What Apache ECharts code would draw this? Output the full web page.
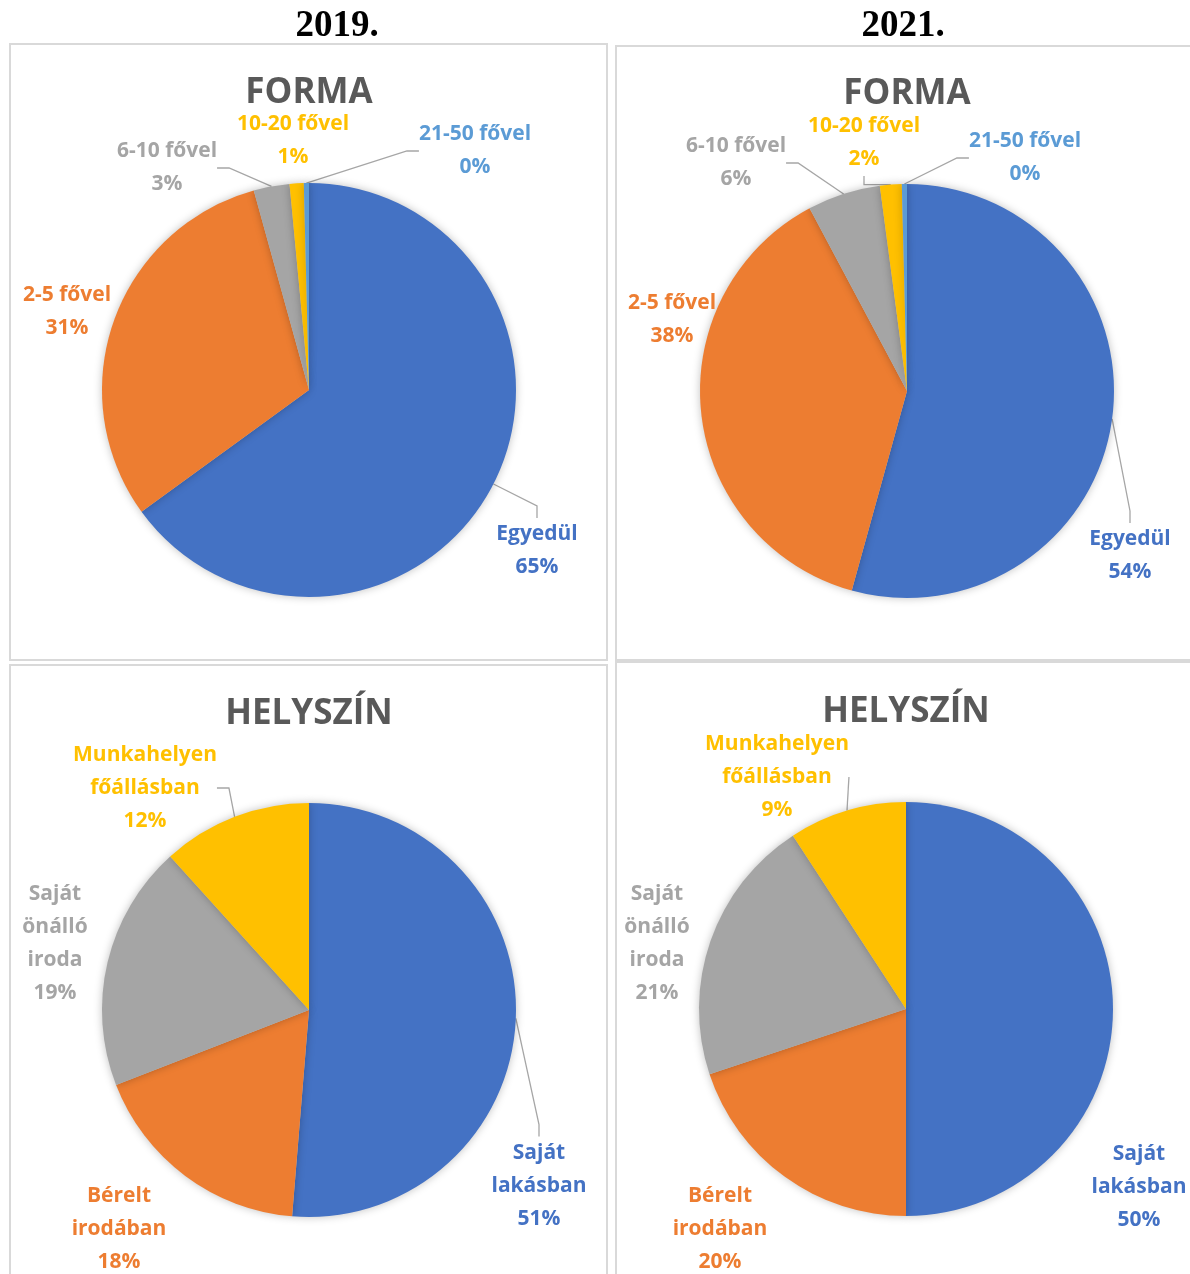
<!DOCTYPE html>
<html>
<head>
<meta charset="utf-8">
<script src="https://cdn.jsdelivr.net/npm/echarts@6/dist/echarts.min.js"></script>
<style>
  html, body { margin: 0; padding: 0; background: #fff; }
  #chart { width: 1190px; height: 1274px; }
</style>
</head>
<body>
<div id="chart"></div>
<script>
// színek (Excel Office paletta)
const colors = ['#4472C4', '#ED7D31', '#A5A5A5', '#FFC000', '#5B9BD5'];

const years = ['2019.', '2021.'];
const chartTitles = ['FORMA', 'HELYSZÍN'];

// FORMA
const formaCategories = ['Egyedül', '2-5 fővel', '6-10 fővel', '10-20 fővel', '21-50 fővel'];
const forma2019 = [65.0, 30.7, 2.8, 1.1, 0.4];
const forma2021 = [54.3, 37.9, 5.7, 1.7, 0.4];

// HELYSZÍN
const helyszinCategories = ['Saját lakásban', 'Bérelt irodában', 'Saját önálló iroda', 'Munkahelyen főállásban'];
const helyszin2019 = [51.3, 17.8, 19.2, 11.7];
const helyszin2021 = [50.0, 19.9, 20.9, 9.2];

// panelek elhelyezése
const panels = [
    {x: 10, y: 44, w: 597, h: 616, cx: 309, cy: 390, titleY: 76},
    {x: 616, y: 46, w: 590, h: 614, cx: 907, cy: 391, titleY: 77},
    {x: 10, y: 665, w: 597, h: 620, cx: 309, cy: 1010, titleY: 697},
    {x: 616, y: 662, w: 590, h: 620, cx: 906, cy: 1009, titleY: 695}
];

// címkék középpontjai (Excel elrendezés szerint)
const labelPos = [
    [[537, 551], [67, 312], [167, 168], [293, 141], [475, 151]],
    [[1130, 556], [672, 320], [736, 163], [864, 143], [1025, 158]],
    [[539, 1186], [119, 1229], [55, 944], [145, 788]],
    [[1139, 1187], [720, 1229], [657, 944], [777, 777]]
];
const showLine = [
    [true, false, true, false, true],
    [true, false, true, true, true],
    [true, false, false, true],
    [false, false, false, true]
];

const seriesDefs = [
    {cats: formaCategories, vals: forma2019, split: false},
    {cats: formaCategories, vals: forma2021, split: false},
    {cats: helyszinCategories, vals: helyszin2019, split: true},
    {cats: helyszinCategories, vals: helyszin2021, split: true}
];

const font = '"Open Sans", Lato, sans-serif';

const chart = echarts.init(document.getElementById('chart'), null, {renderer: 'canvas'});

const yearStyle = {fontFamily: '"Liberation Serif", serif', fontSize: 37, fontWeight: 'bold', color: '#000'};
const titles = [
    {text: years[0], left: 337, top: 8, padding: 0, textAlign: 'center', textStyle: yearStyle},
    {text: years[1], left: 903, top: 8, padding: 0, textAlign: 'center', textStyle: yearStyle}
];
panels.forEach((p, i) => {
    titles.push({
        text: chartTitles[i < 2 ? 0 : 1],
        left: p.cx, top: p.titleY, padding: 0, textAlign: 'center',
        textStyle: {fontFamily: font, fontSize: 35, fontWeight: 'bold', color: '#595959'}
    });
});

const series = seriesDefs.map((d, si) => {
    const p = panels[si];
    return {
        type: 'pie',
        center: [p.cx, p.cy],
        radius: 207,
        startAngle: 90,
        clockwise: true,
        avoidLabelOverlap: false,
        silent: true,
        itemStyle: {
            borderWidth: 0,
            shadowBlur: 8,
            shadowColor: 'rgba(0,0,0,0.25)'
        },
        label: {
            show: true,
            position: 'outside',
            fontFamily: font,
            fontSize: 21,
            fontWeight: 'bold',
            lineHeight: 33,
            align: 'center',
            formatter: (prm) => {
                const name = d.split ? prm.name.split(' ').join('\n') : prm.name;
                return name + '\n' + Math.round(prm.percent) + '%';
            }
        },
        labelLine: {
            show: true,
            length: 10,
            length2: 12,
            lineStyle: {color: '#A6A6A6', width: 1.3}
        },
        labelLayout: (prm) => {
            const pos = labelPos[si][prm.dataIndex];
            return {x: pos[0], y: pos[1], align: 'center', verticalAlign: 'middle'};
        },
        data: d.vals.map((v, k) => ({
            name: d.cats[k],
            value: v,
            itemStyle: {color: colors[k]},
            label: {color: colors[k]},
            labelLine: {show: showLine[si][k]}
        }))
    };
});

const graphics = panels.map(p => ({
    type: 'rect',
    shape: {x: p.x, y: p.y, width: p.w, height: p.h},
    style: {fill: 'none', stroke: '#D9D9D9', lineWidth: 2},
    silent: true,
    z: -1
}));

chart.setOption({
    backgroundColor: '#fff',
    animation: false,
    title: titles,
    graphic: graphics,
    series: series
});
</script>
</body>
</html>
